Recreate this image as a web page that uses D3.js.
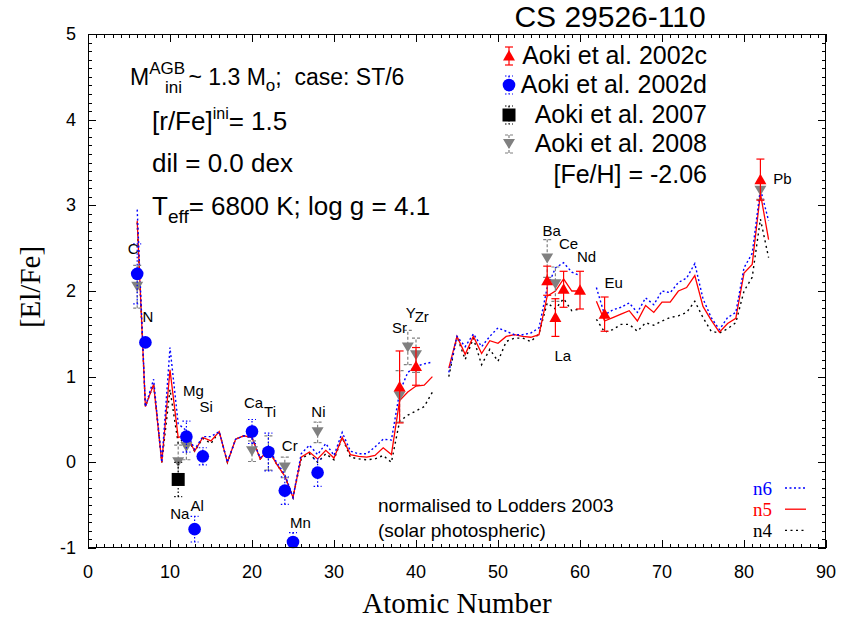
<!DOCTYPE html>
<html>
<head>
<meta charset="utf-8">
<script src="https://cdn.jsdelivr.net/npm/d3@7"></script>
<style>
  body { margin: 0; background: #fff; }
  svg { display: block; }
  text { font-family: "Liberation Sans", Arial, Helvetica, sans-serif; }
  .serif { font-family: "Liberation Serif", "Times New Roman", serif; }
</style>
</head>
<body>
<svg width="844" height="622"></svg>
<script>
// atomic numbers of the model curves (null = gap in the curves)
const modelZ = [6,7,8,9,10,11,12,13,14,15,16,17,18,19,20,21,22,23,24,25,26,27,28,29,30,
  31,32,33,34,35,36,37,38,39,40,41,42,43,44,45,46,47,48,49,50,51,52,53,54,55,56,57,58,59,60,
  61,62,63,64,65,66,67,68,69,70,71,72,73,74,75,76,77,78,79,80,81,82,83];

const n6 = [2.95,0.65,0.97,0.0,1.34,0.45,0.37,0.15,0.30,0.30,0.36,0.0,0.27,0.31,0.29,0.05,0.17,0.0,-0.14,-0.41,
  0.10,0.20,0.09,0.22,0.08,0.35,0.13,0.10,0.10,0.18,0.27,0.26,0.82,1.05,1.12,1.15,1.17,null,
  1.05,1.47,1.35,1.50,1.35,1.47,1.57,1.53,1.49,1.49,1.51,1.57,2.04,2.27,2.33,2.22,2.18,null,
  2.04,1.72,1.78,1.81,1.86,1.75,1.92,1.84,2.00,1.98,2.10,2.15,2.32,1.91,1.69,1.55,1.69,1.75,2.27,2.44,3.19,2.82];

const n5 = [2.82,0.65,0.91,0.0,1.08,0.29,0.33,0.13,0.29,0.25,0.36,0.0,0.27,0.31,0.29,0.04,0.15,-0.02,-0.16,-0.41,
  0.06,0.12,0.04,0.14,0.05,0.29,0.09,0.07,0.06,0.08,0.17,0.09,0.72,0.82,0.89,0.90,1.00,null,
  1.10,1.47,1.26,1.47,1.27,1.42,1.39,1.47,1.49,1.47,1.46,1.49,1.94,2.00,2.14,2.00,2.00,null,
  1.88,1.65,1.69,1.73,1.77,1.65,1.83,1.75,1.87,1.87,2.00,2.04,2.18,1.82,1.66,1.52,1.62,1.68,2.21,2.31,3.14,2.60];

const n4 = [2.80,0.65,0.91,0.0,0.85,0.22,0.30,0.13,0.28,0.22,0.36,0.0,0.27,0.31,0.29,0.04,0.15,-0.02,-0.16,-0.41,
  0.04,0.10,0.0,0.10,0.03,0.29,0.06,0.04,0.03,0.04,0.08,0.0,0.48,0.55,0.60,0.65,0.82,null,
  1.00,1.47,1.20,1.45,1.14,1.32,1.18,1.41,1.45,1.45,1.41,1.50,1.86,1.79,1.91,1.77,1.79,null,
  1.67,1.52,1.55,1.61,1.61,1.53,1.63,1.60,1.65,1.69,1.71,1.75,1.88,1.69,1.53,1.51,1.56,1.63,2.00,2.16,2.84,2.39];

// observations: [element, Z, [El/Fe], error]
const aoki2002c = [["Sr",38,0.88,0.42],["Zr",40,1.12,0.22],["Ba",56,2.12,0.17],["La",57,1.69,0.22],
  ["Ce",58,2.02,0.21],["Nd",60,2.01,0.22],["Eu",63,1.73,0.20],["Pb",82,3.30,0.24]];
const aoki2002d = [["C",6,2.20,0.35],["N",7,1.40,0.0],["Mg",12,0.30,0.18],["Al",13,-0.78,0.15],
  ["Si",14,0.07,0.10],["Ca",20,0.36,0.14],["Ti",22,0.12,0.22],["Cr",24,-0.33,0.16],
  ["Mn",25,-0.93,0.11],["Ni",28,-0.12,0.16]];
const aoki2007 = [["Na",11,-0.20,0.20]];
const aoki2008 = [["C",6,2.05,0.25],["Na",11,0.0,0.20],["Mg",12,0.18,0.15],["Ca",20,0.13,0.12],
  ["Ti",22,0.11,0.20],["Cr",24,-0.06,0.12],["Ni",28,0.35,0.12],["Sr",38,0.77,0.30],
  ["Y",39,1.34,0.20],["Zr",40,1.25,0.20],["Ba",56,2.38,0.22],["La",57,2.08,0.20],["Pb",82,3.17,0.10]];

// element labels: [text, Z, [El/Fe]] of the label baseline centre
const elLabels = [["C",5.5,2.43],["N",7.3,1.64],["Mg",12.85,0.78],["Si",14.4,0.59],["Na",11.2,-0.66],
  ["Al",13.3,-0.57],["Ca",20.2,0.64],["Ti",22.2,0.53],["Cr",24.6,0.13],["Ni",28.1,0.53],
  ["Mn",25.9,-0.77],["Sr",38.0,1.51],["Y",39.35,1.69],["Zr",40.7,1.64],["Ba",56.55,2.64],
  ["Ce",58.6,2.49],["Nd",60.8,2.34],["La",57.9,1.18],["Eu",64.1,2.04],["Pb",84.7,3.25]];

const xTicks = [0,10,20,30,40,50,60,70,80,90];
const yTicks = [-1,0,1,2,3,4,5];

const margin = {left: 88, right: 18, top: 34, bottom: 74};
const width = 844, height = 622;

const svg = d3.select("svg");

const x = d3.scaleLinear().domain([0, 90]).range([margin.left, width - margin.right]);
const y = d3.scaleLinear().domain([-1, 5]).range([height - margin.bottom, margin.top]);

const x0 = x.range()[0], x1 = x.range()[1], y0 = y.range()[0], y1 = y.range()[1];

svg.append("defs").append("clipPath").attr("id", "plot")
  .append("rect").attr("x", x0).attr("y", y1).attr("width", x1 - x0).attr("height", y0 - y1);

// ticks on all four sides, pointing inward
const tickG = svg.append("g").attr("stroke", "#000").attr("stroke-width", 1);
d3.range(0, 91, 1).forEach(t => {
  const len = t % 10 === 0 ? 8 : 4;
  const px = Math.round(x(t)) + 0.5;
  tickG.append("line").attr("x1", px).attr("x2", px).attr("y1", y0).attr("y2", y0 - len);
  tickG.append("line").attr("x1", px).attr("x2", px).attr("y1", y1).attr("y2", y1 + len);
});
d3.range(-10, 51, 1).forEach(t => {
  const len = t % 10 === 0 ? 8 : 4;
  const py = Math.round(y(t / 10)) + 0.5;
  tickG.append("line").attr("x1", x0).attr("x2", x0 + len).attr("y1", py).attr("y2", py);
  tickG.append("line").attr("x1", x1).attr("x2", x1 - len).attr("y1", py).attr("y2", py);
});

svg.append("g").selectAll("text").data(xTicks).join("text")
  .attr("x", d => x(d)).attr("y", y0 + 30)
  .attr("text-anchor", "middle").attr("font-size", 18).text(d => d);
svg.append("g").selectAll("text").data(yTicks).join("text")
  .attr("x", x0 - 12).attr("y", d => y(d) + 6)
  .attr("text-anchor", "end").attr("font-size", 18).text(d => d);

svg.append("text").attr("class", "serif")
  .attr("x", (x0 + x1) / 2).attr("y", 613).attr("text-anchor", "middle")
  .attr("font-size", 29).text("Atomic Number");
svg.append("text").attr("class", "serif")
  .attr("transform", `translate(40,${(y0 + y1) / 2 - 4}) rotate(-90)`)
  .attr("text-anchor", "middle").attr("font-size", 29).text("[El/Fe]");

// model curves
const line = d3.line()
  .defined(d => d[1] !== null)
  .x(d => x(d[0])).y(d => y(d[1]));

const models = [
  {name: "n6", vals: n6, color: "#0000ff", dash: "2,2.5", w: 1.4},
  {name: "n5", vals: n5, color: "#ff0000", dash: null, w: 1.3},
  {name: "n4", vals: n4, color: "#000000", dash: "2,3.5", w: 1.4}
];
const curveG = svg.append("g").attr("clip-path", "url(#plot)");
models.slice().reverse().forEach(m => {
  curveG.append("path")
    .datum(modelZ.map((z, i) => [z, m.vals[i]]))
    .attr("fill", "none").attr("stroke", m.color)
    .attr("stroke-width", m.w).attr("stroke-dasharray", m.dash)
    .attr("d", line);
});

// observational data
const sets = [
  {data: aoki2008, color: "#808080", dash: "3,2", sym: "down"},
  {data: aoki2007, color: "#000000", dash: "1.5,2", sym: "square"},
  {data: aoki2002d, color: "#0000ff", dash: "1.5,2", sym: "circle"},
  {data: aoki2002c, color: "#ff0000", dash: null, sym: "up"}
];

function symbolPath(sym) {
  if (sym === "up") return "M0,-6L6,4.5L-6,4.5Z";
  if (sym === "down") return "M0,5L6,-5L-6,-5Z";
  if (sym === "square") return "M-6.5,-6.5H6.5V6.5H-6.5Z";
  return d3.symbol(d3.symbolCircle, 125)();
}

function errorBar(g, cx, ylo, yhi, s) {
  const eg = g.append("g").attr("stroke", s.color).attr("stroke-width", 1.2)
    .attr("stroke-dasharray", s.dash);
  eg.append("line").attr("x1", cx).attr("x2", cx).attr("y1", ylo).attr("y2", yhi);
  eg.append("line").attr("x1", cx - 4).attr("x2", cx + 4).attr("y1", ylo).attr("y2", ylo);
  eg.append("line").attr("x1", cx - 4).attr("x2", cx + 4).attr("y1", yhi).attr("y2", yhi);
}

const obsG = svg.append("g");
sets.forEach(s => {
  const g = obsG.append("g").attr("clip-path", "url(#plot)");
  s.data.forEach(d => {
    if (d[3] > 0) errorBar(g, x(d[1]), y(d[2] - d[3]), y(d[2] + d[3]), s);
  });
  const g2 = obsG.append("g");
  s.data.forEach(d => {
    g2.append("path").attr("d", symbolPath(s.sym))
      .attr("transform", `translate(${x(d[1])},${y(d[2])})`)
      .attr("fill", s.color);
  });
});

// element labels
svg.append("g").selectAll("text").data(elLabels).join("text")
  .attr("x", d => x(d[1])).attr("y", d => y(d[2]))
  .attr("text-anchor", "middle").attr("font-size", 15).text(d => d[0]);

// frame
svg.append("rect").attr("x", x0 + 0.5).attr("y", y1 + 0.5)
  .attr("width", x1 - x0 - 1).attr("height", y0 - y1 - 1)
  .attr("fill", "none").attr("stroke", "#000").attr("stroke-width", 1);

// title
svg.append("text").attr("x", 610).attr("y", 27).attr("text-anchor", "middle")
  .attr("font-size", 30).text("CS 29526-110");

// model description
const info = svg.append("g").attr("font-size", 26);
const t1 = info.append("text").attr("x", 130).attr("y", 85).attr("font-size", 23);
t1.append("tspan").text("M");
t1.append("tspan").attr("font-size", 17).attr("dy", -11).text("AGB");
t1.append("tspan").attr("font-size", 17).attr("dx", -20).attr("dy", 19).text("ini");
t1.append("tspan").attr("dy", -8).text(" ~ 1.3 M");
t1.append("tspan").attr("font-size", 17).attr("dy", 6).text("o");
t1.append("tspan").attr("dy", -6).text(";\u00a0 case: ST/6");

const t2 = info.append("text").attr("x", 152).attr("y", 130);
t2.append("tspan").text("[r/Fe]");
t2.append("tspan").attr("font-size", 16).attr("dy", -11).text("ini");
t2.append("tspan").attr("dy", 11).text("= 1.5");

info.append("text").attr("x", 152).attr("y", 172).text("dil = 0.0 dex");

const t4 = info.append("text").attr("x", 152).attr("y", 215);
t4.append("tspan").text("T");
t4.append("tspan").attr("font-size", 19).attr("dy", 8).text("eff");
t4.append("tspan").attr("dy", -8).text("= 6800 K; log g = 4.1");

// legend of observations
const legRows = [
  {label: "Aoki et al. 2002c", s: sets[3], yb: 64},
  {label: "Aoki et al. 2002d", s: sets[2], yb: 93},
  {label: "Aoki et al. 2007", s: sets[1], yb: 123},
  {label: "Aoki et al. 2008", s: sets[0], yb: 152}
];
const leg = svg.append("g");
legRows.forEach(r => {
  const cy = r.yb - 8;
  errorBar(leg, 509, cy - 9, cy + 9, r.s);
  leg.append("path").attr("d", symbolPath(r.s.sym))
    .attr("transform", `translate(509,${cy})`).attr("fill", r.s.color);
  leg.append("text").attr("x", 707).attr("y", r.yb).attr("text-anchor", "end")
    .attr("font-size", 25).text(r.label);
});
leg.append("text").attr("x", 707).attr("y", 183).attr("text-anchor", "end")
  .attr("font-size", 25).text("[Fe/H] = -2.06");

// normalisation note
svg.append("text").attr("x", 378).attr("y", 512).attr("font-size", 19)
  .text("normalised to Lodders 2003");
svg.append("text").attr("x", 378).attr("y", 537).attr("font-size", 19)
  .text("(solar photospheric)");

// model legend
const mleg = svg.append("g");
models.forEach((m, i) => {
  const yb = 495 + i * 21.2;
  mleg.append("text").attr("class", "serif").attr("x", 772).attr("y", yb)
    .attr("text-anchor", "end").attr("font-size", 19).attr("fill", m.color).text(m.name);
  mleg.append("line").attr("x1", 785).attr("x2", 806).attr("y1", yb - 7).attr("y2", yb - 7)
    .attr("stroke", m.color).attr("stroke-width", m.w).attr("stroke-dasharray", m.dash);
});
</script>
</body>
</html>
